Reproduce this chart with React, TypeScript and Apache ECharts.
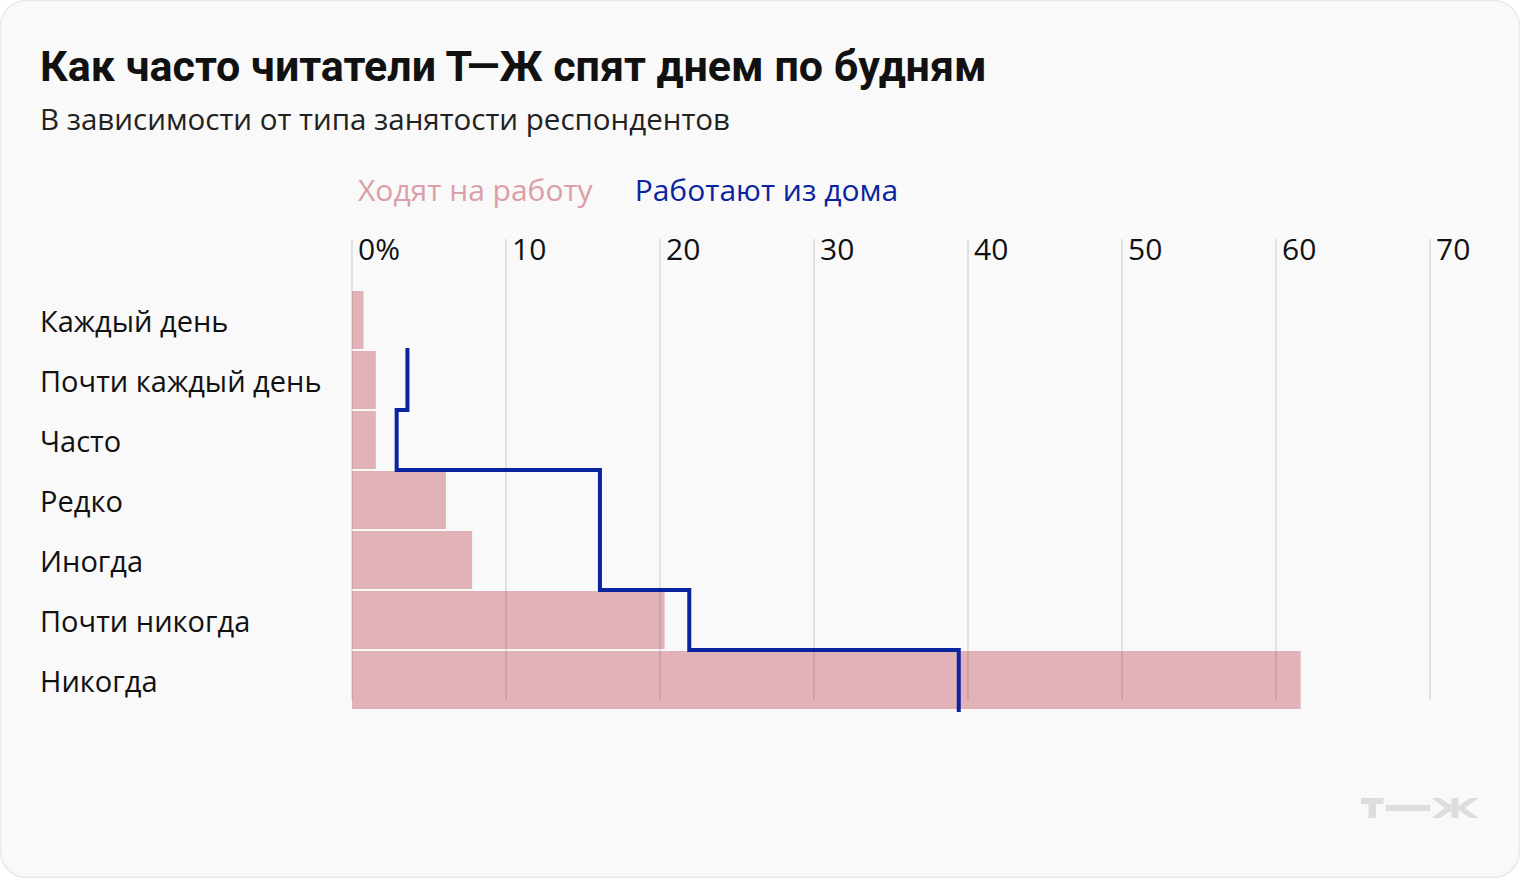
import React, { useEffect, useRef } from "react";
import * as echarts from "echarts";

const categories = [
  "Каждый день",
  "Почти каждый день",
  "Часто",
  "Редко",
  "Иногда",
  "Почти никогда",
  "Никогда",
];
const officeValues = [0.75, 1.55, 1.55, 6.1, 7.8, 20.3, 61.6];
const homeValues: (number | null)[] = [null, 3.6, 2.9, 16.1, 16.1, 21.9, 39.4];
const seriesNames = ["Ходят на работу", "Работают из дома"];
const titleText = "Как часто читатели Т—Ж спят днем по будням";
const subtitleText = "В зависимости от типа занятости респондентов";
const axisMax = 70;
const axisStep = 10;

const PINK = "#e1b3b9";
const PINK_TEXT = "#dc9ea7";
const BLUE = "#0a239e";
const FONT = "'Open Sans', Roboto, sans-serif";
const TITLE_FONT = "Roboto, 'Noto Sans', sans-serif";

export default function App() {
  const ref = useRef<HTMLDivElement>(null);

  useEffect(() => {
    document.body.style.margin = "0";
    const chart = echarts.init(ref.current!, null, { renderer: "svg" });

    const stepData: [number, number][] = [];
    homeValues.forEach((v, i) => {
      if (v == null) return;
      stepData.push([v, i]);
      stepData.push([v, i + 1]);
    });

    const logoColor = "#dddddd";
    const lx = 1361;
    const ly = 798;

    chart.setOption({
      animation: false,
      textStyle: { fontFamily: FONT },
      title: [
        {
          text: titleText,
          left: 40,
          top: 44,
          padding: 0,
          textStyle: { fontSize: 43, fontWeight: "bold", color: "#111", lineHeight: 43, fontFamily: TITLE_FONT },
        },
        {
          text: subtitleText,
          left: 40,
          top: 104,
          padding: 0,
          textStyle: { fontSize: 29.5, fontWeight: "normal", color: "#222", lineHeight: 29.5, fontFamily: FONT },
        },
      ],
      legend: {
        left: 353,
        top: 174,
        padding: 0,
        icon: "none",
        itemWidth: 0,
        itemGap: 37,
        selectedMode: false,
        textStyle: { fontSize: 30, lineHeight: 30, fontFamily: FONT },
        data: [
          { name: seriesNames[0], textStyle: { color: PINK_TEXT } },
          { name: seriesNames[1], textStyle: { color: BLUE } },
        ],
      },
      graphic: [
        {
          type: "rect",
          z: -10,
          shape: { x: 0.5, y: 0.5, width: 1519, height: 877, r: 26 },
          style: { fill: "#f9f9f9", stroke: "#e8e8e8", lineWidth: 1.5 },
          silent: true,
        },
        {
          type: "group",
          silent: true,
          children: [
            {
              type: "polygon",
              shape: {
                points: [
                  [lx, ly], [lx + 22.5, ly], [lx + 22.5, ly + 6], [lx + 15, ly + 6],
                  [lx + 15, ly + 20], [lx + 7.5, ly + 20], [lx + 7.5, ly + 6], [lx, ly + 6],
                ],
              },
              style: { fill: logoColor },
            },
            {
              type: "rect",
              shape: { x: lx + 25, y: ly + 7, width: 44, height: 6 },
              style: { fill: logoColor },
            },
            {
              type: "polygon",
              shape: {
                points: [
                  [lx + 70.5, ly], [lx + 79, ly], [lx + 91, ly + 8], [lx + 91, ly + 12],
                  [lx + 79, ly + 20], [lx + 70.5, ly + 20], [lx + 84, ly + 10],
                ],
              },
              style: { fill: logoColor },
            },
            {
              type: "rect",
              shape: { x: lx + 90.5, y: ly, width: 7, height: 20 },
              style: { fill: logoColor },
            },
            {
              type: "polygon",
              shape: {
                points: [
                  [lx + 117.5, ly], [lx + 109, ly], [lx + 97, ly + 8], [lx + 97, ly + 12],
                  [lx + 109, ly + 20], [lx + 117.5, ly + 20], [lx + 104, ly + 10],
                ],
              },
              style: { fill: logoColor },
            },
          ],
        },
      ],
      grid: [
        { left: 352, width: 1078, top: 290, height: 420 },
        { left: 352, width: 1078, top: 239, height: 461 },
      ],
      xAxis: [
        { gridIndex: 0, type: "value", min: 0, max: axisMax, show: false },
        {
          gridIndex: 1,
          type: "value",
          position: "top",
          min: 0,
          max: axisMax,
          interval: axisStep,
          z: 10,
          axisLine: { show: false },
          axisTick: { show: false },
          splitLine: { show: true, lineStyle: { color: "rgba(0,0,0,0.09)", width: 2 } },
          axisLabel: {
            inside: true,
            margin: -6,
            align: "left",
            verticalAlign: "top",
            padding: [0, 0, 0, 6],
            fontSize: 30,
            lineHeight: 30,
            color: "#111",
            fontFamily: FONT,
            showMinLabel: true,
            showMaxLabel: true,
            formatter: (v: number) => (v === 0 ? "0%" : String(v)),
          },
        },
      ],
      yAxis: [
        {
          gridIndex: 0,
          type: "category",
          data: categories,
          inverse: true,
          axisLine: { show: false },
          axisTick: { show: false },
          splitLine: { show: false },
          axisLabel: {
            align: "left",
            margin: 312,
            fontSize: 29,
            lineHeight: 29,
            padding: [0, 0, 3, 0],
            color: "#111",
            fontFamily: FONT,
          },
        },
        { gridIndex: 0, type: "value", min: 0, max: categories.length, inverse: true, show: false },
        { gridIndex: 1, type: "value", show: false },
      ],
      series: [
        {
          name: seriesNames[0],
          type: "bar",
          xAxisIndex: 0,
          yAxisIndex: 0,
          data: officeValues,
          barCategoryGap: "3.3%",
          itemStyle: { color: PINK },
          z: 2,
        },
        {
          name: seriesNames[1],
          type: "line",
          xAxisIndex: 0,
          yAxisIndex: 1,
          data: stepData,
          showSymbol: false,
          symbol: "none",
          lineStyle: { color: BLUE, width: 4, join: "miter", cap: "square" },
          itemStyle: { color: BLUE },
          z: 3,
        },
      ],
    });

    return () => chart.dispose();
  }, []);

  return <div ref={ref} style={{ width: 1520, height: 878 }} />;
}
